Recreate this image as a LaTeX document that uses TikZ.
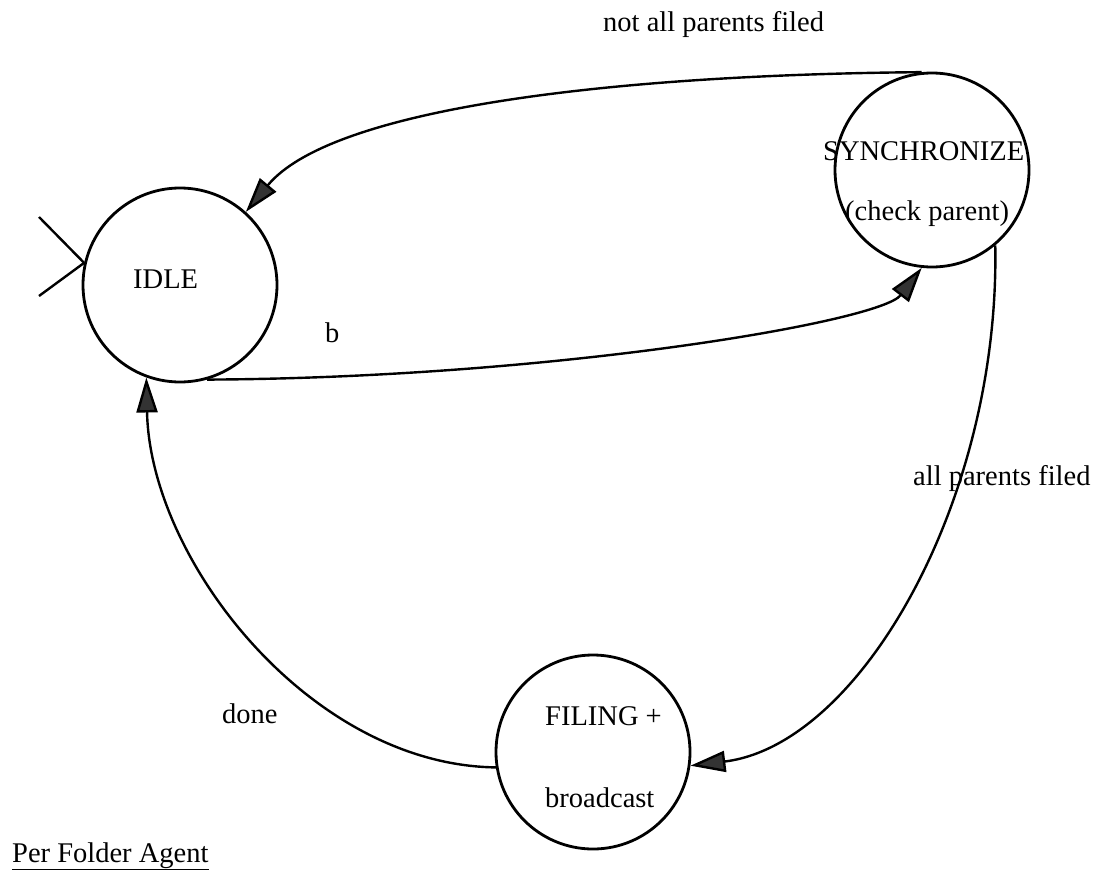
\documentclass[tikz,border=0pt]{standalone}
\usepackage{fontspec}
\setmainfont{Liberation Serif}
\usetikzlibrary{arrows.meta}
\begin{document}
\begin{tikzpicture}[x=1pt,y=-1pt,
  state/.style={circle,draw,line width=2.8pt,minimum size=194pt,inner sep=0pt},
  txt/.style={inner sep=0pt,anchor=base west,font=\fontsize{28.5}{34}\selectfont},
  edge/.style={line width=2.4pt,-{Triangle[length=35pt,width=21pt,fill=black!80]}},
  entry/.style={line width=2.4pt}]
\useasboundingbox (0,0) rectangle (1102,875);

% states
\node[state] (idle) at (180,285) {};
\node[state] (sync) at (932,170) {};
\node[state] (fil)  at (593,752) {};

% state texts
\node[txt] (idleT)  at (133,288) {IDLE};
\node[txt] (syncT)  at (823,160) {SYNCHRONIZE};
\node[txt] (syncT2) at (845,220) {(check parent)};
\node[txt] (filT)   at (545,725) {FILING +};
\node[txt] (filT2)  at (545,807) {broadcast};

% initial-state marker
\coordinate (in1) at (39,217);
\coordinate (in2) at (39,296);
\draw[entry] (in1) -- (idle.167);
\draw[entry] (in2) -- (idle.167);

% transitions
\draw[edge] (sync.96) .. controls (600,75) and (330,110) .. (idle.48);
\draw[edge] (idle.-74) .. controls (550,378) and (880,322) .. (sync.-96);
\draw[edge] (sync.-50) .. controls (1000,500) and (860,745) .. (fil.-8);
\draw[edge] (fil.-171) .. controls (310,765) and (150,560) .. (idle.-110);

% transition labels
\node[txt] (lNot)  at (603,32)  {not all parents filed};
\node[txt] (lB)    at (325,342) {b};
\node[txt] (lAll)  at (913,485) {all parents filed};
\node[txt] (lDone) at (222,723) {done};

% caption
\node[txt] (cap) at (12,862) {\underline{Per Folder Agent}};
\end{tikzpicture}
\end{document}
